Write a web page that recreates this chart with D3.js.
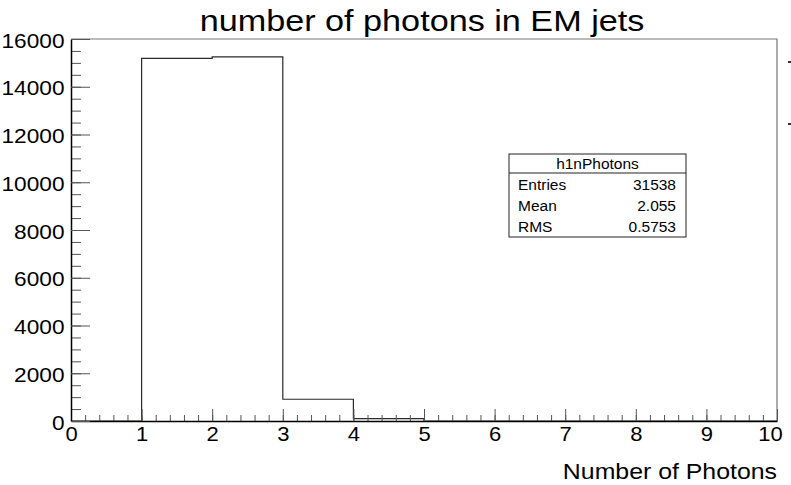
<!DOCTYPE html>
<html>
<head>
<meta charset="utf-8">
<script src="https://cdn.jsdelivr.net/npm/d3@7"></script>
<style>
  body { margin: 0; background: #fff; }
  text { font-family: "Liberation Sans", Arial, Helvetica, sans-serif; fill: #000; }
</style>
</head>
<body>
<script>
var w = 791;
var h = 485;

// histogram bins (lower edges) and counts
var binEdges = [0, 1, 2, 3, 4, 5, 6, 7, 8, 9, 10];
var counts = [0, 15192, 15250, 910, 100, 0, 0, 0, 0, 0];

var xTicks = [0, 1, 2, 3, 4, 5, 6, 7, 8, 9, 10];
var yTicks = [0, 2000, 4000, 6000, 8000, 10000, 12000, 14000, 16000];

var statsLabels = ['Entries', 'Mean', 'RMS'];
var statsValues = ['31538', '2.055', '0.5753'];

var titleText = 'number of photons in EM jets';
var xTitle = 'Number of Photons';
var statsName = 'h1nPhotons';

var pl = 71, pr = 777, pt = 39, pb = 421;

var x = d3.scaleLinear().domain([0, 10]).range([pl, pr]);
var y = d3.scaleLinear().domain([0, 16000]).range([pb, pt]);

var svg = d3.select('body').append('svg')
  .attr('width', w)
  .attr('height', h);

// frame (top and right)
svg.append('path')
  .attr('d', `M ${pl} ${pt} H ${pr} V ${pb}`)
  .attr('fill', 'none')
  .attr('stroke', '#777')
  .attr('stroke-width', 1.2);

// histogram step line
var pts = [];
counts.forEach(function(c, i) {
  pts.push([x(binEdges[i]), y(c)]);
  pts.push([x(binEdges[i + 1]), y(c)]);
});
svg.append('path')
  .attr('d', d3.line()(pts))
  .attr('fill', 'none')
  .attr('stroke', '#2a2a2a')
  .attr('stroke-width', 1.2);

// x axis: minor ticks then major
svg.append('g')
  .attr('transform', `translate(0,${pb})`)
  .call(d3.axisBottom(x).ticks(50).tickSize(-6).tickFormat(''))
  .call(function(g) { g.select('.domain').remove(); });

var xa = svg.append('g')
  .attr('transform', `translate(0,${pb})`)
  .call(d3.axisBottom(x).tickValues(xTicks).tickSize(-12).tickSizeOuter(0).tickPadding(6).tickFormat(d3.format('d')));
xa.selectAll('text').attr('font-size', 20).attr('font-family', '"Liberation Sans", Arial, sans-serif')
  .attr('transform', function(d) { return (d === 10 ? 'translate(-7,0) ' : '') + 'scale(1.1,1)'; });

// y axis
svg.append('g')
  .attr('transform', `translate(${pl},0)`)
  .call(d3.axisLeft(y).ticks(32).tickSize(-10).tickFormat(''))
  .call(function(g) { g.select('.domain').remove(); });

var ya = svg.append('g')
  .attr('transform', `translate(${pl},0)`)
  .call(d3.axisLeft(y).tickValues(yTicks).tickSize(-19).tickSizeOuter(0).tickPadding(6).tickFormat(d3.format('d')));
ya.selectAll('text').attr('font-size', 21).attr('font-family', '"Liberation Sans", Arial, sans-serif')
  .attr('transform', 'translate(0,1.5) scale(1.08,1)');

svg.selectAll('.tick line').attr('stroke', '#555');
svg.selectAll('.domain').attr('stroke', '#000').attr('stroke-width', 1.5);

// title
svg.append('text')
  .attr('transform', 'translate(422,31) scale(1.14,1)')
  .attr('text-anchor', 'middle')
  .attr('font-size', 30)
  .text(titleText);

// x axis title
svg.append('text')
  .attr('transform', `translate(${pr},479) scale(1.13,1)`)
  .attr('text-anchor', 'end')
  .attr('font-size', 22)
  .text(xTitle);

// stats box
var sx0 = 509, sx1 = 686, sy0 = 154, sy1 = 237, sep = 173;
var stats = svg.append('g');
stats.append('rect')
  .attr('x', sx0).attr('y', sy0)
  .attr('width', sx1 - sx0).attr('height', sy1 - sy0)
  .attr('fill', '#fff').attr('stroke', '#222').attr('stroke-width', 1);
stats.append('line')
  .attr('x1', sx0).attr('x2', sx1).attr('y1', sep).attr('y2', sep)
  .attr('stroke', '#222');
stats.append('text')
  .attr('x', (sx0 + sx1) / 2).attr('y', 169)
  .attr('text-anchor', 'middle').attr('font-size', 15.5)
  .text(statsName);
var rowY = d3.scalePoint().domain(statsLabels).range([190, 232]);
stats.selectAll('text.lab').data(statsLabels).enter().append('text')
  .attr('class', 'lab')
  .attr('x', 518).attr('y', function(d) { return rowY(d); })
  .attr('font-size', 15.5)
  .text(function(d) { return d; });
stats.selectAll('text.val').data(statsValues).enter().append('text')
  .attr('class', 'val')
  .attr('x', 676).attr('y', function(d, i) { return rowY(statsLabels[i]); })
  .attr('text-anchor', 'end')
  .attr('font-size', 15.5)
  .text(function(d) { return d; });

// clipped marks at right edge
[61, 123].forEach(function(yy) {
  svg.append('rect').attr('x', 788).attr('y', yy).attr('width', 3).attr('height', 2).attr('fill', '#333');
});
</script>
</body>
</html>
